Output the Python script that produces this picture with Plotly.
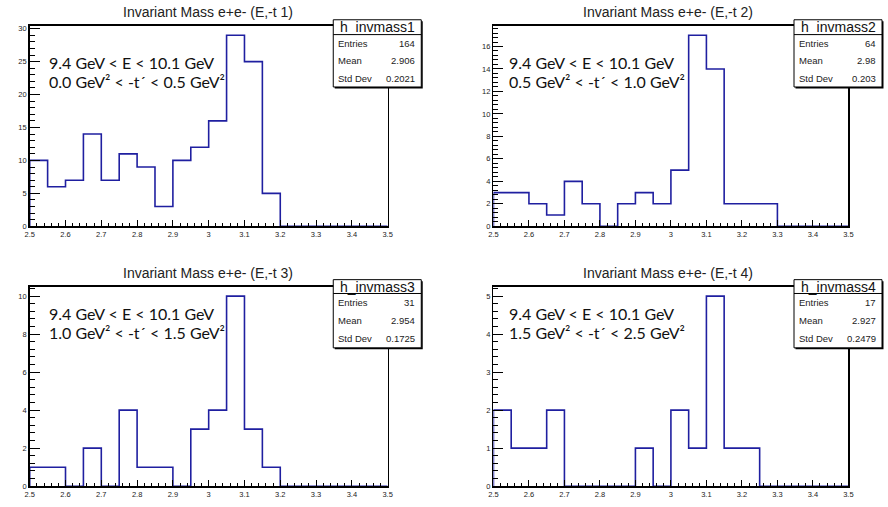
import plotly.graph_objects as go

W, H = 888, 507

# ---------------- data ----------------
bin_low = 2.5
bin_high = 3.5
n_bins = 20

counts_1 = [10, 6, 7, 14, 7, 11, 9, 3, 10, 12, 16, 29, 25, 5, 0, 0, 0, 0, 0, 0]
counts_2 = [3, 3, 2, 1, 4, 2, 0, 2, 3, 2, 5, 17, 14, 2, 2, 2, 0, 0, 0, 0]
counts_3 = [1, 1, 0, 2, 0, 4, 1, 1, 0, 3, 4, 10, 3, 1, 0, 0, 0, 0, 0, 0]
counts_4 = [2, 1, 1, 2, 0, 0, 0, 0, 1, 0, 2, 1, 5, 1, 1, 0, 0, 0, 0, 0]

titles = ["Invariant Mass e+e- (E,-t 1)", "Invariant Mass e+e- (E,-t 2)",
          "Invariant Mass e+e- (E,-t 3)", "Invariant Mass e+e- (E,-t 4)"]
hist_names = ["h_invmass1", "h_invmass2", "h_invmass3", "h_invmass4"]
entries = ["164", "64", "31", "17"]
means = ["2.906", "2.98", "2.954", "2.927"]
stddevs = ["0.2021", "0.203", "0.1725", "0.2479"]
energy_label = "9.4 GeV < E < 10.1 GeV"
t_labels = ["0.0 GeV² < -t´ < 0.5 GeV²",
            "0.5 GeV² < -t´ < 1.0 GeV²",
            "1.0 GeV² < -t´ < 1.5 GeV²",
            "1.5 GeV² < -t´ < 2.5 GeV²"]
x_tick_vals = [2.5, 2.6, 2.7, 2.8, 2.9, 3.0, 3.1, 3.2, 3.3, 3.4, 3.5]
x_tick_text = ["2.5", "2.6", "2.7", "2.8", "2.9", "3", "3.1", "3.2", "3.3", "3.4", "3.5"]
y_major = [5, 2, 2, 1]
y_minor = [1, 0.4, 0.4, 0.2]

# ---------------- layout geometry (pixels) ----------------
frames = [(25, 387, 25, 228), (494, 853, 25, 228),
          (25, 387, 289, 491), (494, 853, 289, 491)]
stat_boxes = [(332, 421, 19, 34, 87), (798, 887, 19, 34, 87),
              (332, 421, 282, 296, 351), (798, 887, 282, 296, 351)]
title_pos = [(205, 11), (671, 11), (205, 275), (671, 275)]
text_pos = [(42, 62, 81), (508, 62, 81), (42, 316, 335), (508, 316, 335)]

def px(x):
    return x / W

def py(y):
    return 1 - y / H

line_color = "#1f1fa0"
fig = go.Figure()
shapes = []
annotations = []
lab_font = "Liberation Sans, Arial, sans-serif"

for i, counts in enumerate([counts_1, counts_2, counts_3, counts_4]):
    k = "" if i == 0 else str(i + 1)
    width = (bin_high - bin_low) / n_bins
    edges = [bin_low + j * width for j in range(n_bins + 1)]
    xs = [bin_low] + edges
    ys = [0] + counts + [0]
    fig.add_trace(go.Scatter(x=xs, y=ys, mode="lines", line_shape="hv",
                             line=dict(color=line_color, width=1.6),
                             xaxis="x" + k, yaxis="y" + k, showlegend=False,
                             hoverinfo="skip"))
    l, r, t, b = frames[i]
    ymax = max(counts) * 1.05
    axis_common = dict(showgrid=False, zeroline=False, showline=True, linecolor="black",
                       linewidth=1.5, mirror=True, ticks="inside", tickcolor="black",
                       tickfont=dict(family=lab_font, size=7.5, color="#222"))
    fig.update_layout(**{
        "xaxis" + k: dict(domain=[px(l), px(r)], range=[bin_low, bin_high],
                          anchor="y" + k, tickvals=x_tick_vals, ticktext=x_tick_text,
                          ticklen=6, tickwidth=1,
                          minor=dict(dtick=0.02, tick0=2.5, ticklen=3, ticks="inside",
                                     tickcolor="black", tickwidth=1),
                          **axis_common),
        "yaxis" + k: dict(domain=[py(b), py(t)], range=[0, ymax], anchor="x" + k,
                          dtick=y_major[i], tick0=0, ticklen=10, tickwidth=1,
                          minor=dict(dtick=y_minor[i], tick0=0, ticklen=5, ticks="inside",
                                     tickcolor="black", tickwidth=1),
                          **axis_common),
    })
    tx, ty = title_pos[i]
    annotations.append(dict(x=px(tx), y=py(ty), xref="paper", yref="paper",
                            text=titles[i], showarrow=False, xanchor="center",
                            yanchor="middle",
                            font=dict(family=lab_font, size=14, color="#222")))
    ax_, ay1, ay2 = text_pos[i]
    annotations.append(dict(x=px(ax_), y=py(ay1), xref="paper", yref="paper",
                            text=energy_label, showarrow=False, xanchor="left",
                            yanchor="middle",
                            font=dict(family="Lato, sans-serif", size=16, color="#111")))
    annotations.append(dict(x=px(ax_), y=py(ay2), xref="paper", yref="paper",
                            text=t_labels[i], showarrow=False, xanchor="left",
                            yanchor="middle",
                            font=dict(family="Lato, sans-serif", size=16, color="#111")))
    bx0, bx1, by0, byh, by1 = stat_boxes[i]
    shapes.append(dict(type="rect", xref="paper", yref="paper",
                       x0=px(bx0 + 1.5), x1=px(bx1 + 1.5), y0=py(by1 + 1.5), y1=py(by0 + 1.5),
                       fillcolor="black", line=dict(width=0), layer="above"))
    shapes.append(dict(type="rect", xref="paper", yref="paper",
                       x0=px(bx0), x1=px(bx1), y0=py(by1), y1=py(by0),
                       fillcolor="white", line=dict(color="black", width=1), layer="above"))
    shapes.append(dict(type="line", xref="paper", yref="paper",
                       x0=px(bx0), x1=px(bx1), y0=py(byh), y1=py(byh),
                       line=dict(color="black", width=1), layer="above"))
    annotations.append(dict(x=px((bx0 + bx1) / 2), y=py((by0 + byh) / 2), xref="paper",
                            yref="paper", text=hist_names[i], showarrow=False,
                            xanchor="center", yanchor="middle",
                            font=dict(family=lab_font, size=14, color="#111")))
    row_h = (by1 - byh) / 3
    for j, (lab, val) in enumerate([("Entries", entries[i]), ("Mean", means[i]),
                                    ("Std Dev", stddevs[i])]):
        yy = byh + row_h * (j + 0.5)
        annotations.append(dict(x=px(bx0 + 3), y=py(yy), xref="paper", yref="paper",
                                text=lab, showarrow=False, xanchor="left", yanchor="middle",
                                font=dict(family=lab_font, size=9.5, color="#222")))
        annotations.append(dict(x=px(bx1 - 4), y=py(yy), xref="paper", yref="paper",
                                text=val, showarrow=False, xanchor="right", yanchor="middle",
                                font=dict(family=lab_font, size=9.5, color="#222")))

fig.update_layout(width=W, height=H, margin=dict(l=0, r=0, t=0, b=0),
                  paper_bgcolor="white", plot_bgcolor="white",
                  shapes=shapes, annotations=annotations, showlegend=False)

fig.write_html("out.html", config={"displayModeBar": False, "staticPlot": True},
               post_script="document.body.style.margin='0';document.body.style.padding='0';"
                           "document.body.style.overflow='hidden';")
